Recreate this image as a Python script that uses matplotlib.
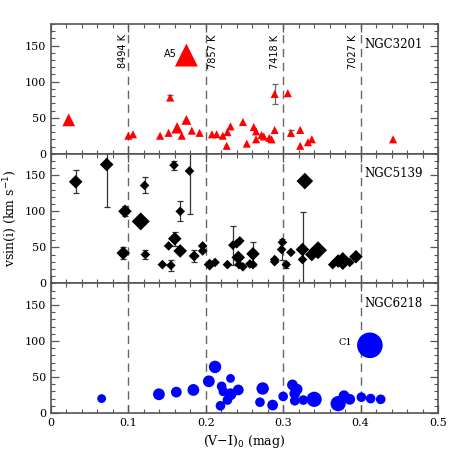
import numpy as np
import matplotlib
matplotlib.use('Agg')
import matplotlib.pyplot as plt
from matplotlib.ticker import MultipleLocator, FuncFormatter

# NGC3201 (red triangles)
x3201 = [0.023, 0.175, 0.154, 0.100, 0.106, 0.141, 0.152, 0.163, 0.169, 0.175,
         0.182, 0.192, 0.208, 0.214, 0.222, 0.228, 0.232, 0.227, 0.248, 0.253,
         0.262, 0.265, 0.265, 0.272, 0.275, 0.282, 0.285, 0.289, 0.289, 0.306,
         0.310, 0.322, 0.322, 0.332, 0.337, 0.442]
y3201 = [47, 137, 78, 25, 27, 25, 29, 36, 25, 47,
         32, 29, 27, 27, 25, 30, 38, 11, 44, 14,
         37, 31, 20, 26, 24, 22, 20, 33, 83, 84,
         29, 33, 11, 16, 20, 20]
e3201 = [0, 0, 4, 0, 0, 0, 0, 0, 0, 0,
         0, 0, 0, 0, 0, 0, 0, 0, 0, 0,
         0, 0, 0, 0, 0, 0, 0, 0, 14, 0,
         4, 0, 0, 0, 0, 0]
k3201 = [2.5, 8, 1, 1, 1, 1, 1, 2, 1, 1.5,
         1, 1, 1, 1, 1, 1, 1, 1, 1, 1,
         1, 1, 1, 1, 1, 1, 1, 1, 1, 1,
         1, 1, 1, 1, 1, 1]

# NGC5139 (black diamonds)
x5139 = [0.032, 0.072, 0.0956, 0.0934, 0.116, 0.121, 0.122, 0.144, 0.152, 0.155,
         0.159, 0.160, 0.167, 0.167, 0.179, 0.185, 0.196, 0.196, 0.205, 0.212,
         0.228, 0.235, 0.240, 0.244, 0.242, 0.243, 0.248, 0.257, 0.261, 0.261,
         0.289, 0.289, 0.299, 0.298, 0.304, 0.310, 0.328, 0.325, 0.325, 0.337,
         0.345, 0.364, 0.371, 0.377, 0.386, 0.394]
y5139 = [141, 165, 100, 42, 86, 136, 40, 26, 52, 25,
         164, 62, 100, 45, 156, 38, 52, 45, 26, 29,
         26, 53, 55, 59, 36, 26, 23, 27, 41, 26,
         33, 30, 57, 47, 26, 43, 142, 47, 33, 40,
         46, 26, 31, 31, 29, 37]
e5139 = [16, 59, 7, 8, 0, 11, 6, 0, 0, 8,
         6, 10, 14, 0, 60, 9, 0, 0, 0, 0,
         0, 27, 0, 0, 0, 0, 0, 0, 17, 0,
         0, 0, 0, 14, 4, 0, 0, 52, 0, 0,
         0, 0, 0, 0, 0, 0]
k5139 = [2, 2, 2, 2, 3.5, 1, 1, 1, 1, 1,
         1, 2, 1, 2, 1, 1.3, 1, 1, 1.5, 1,
         1, 1, 1, 1, 2, 1, 1, 1, 2, 1,
         1, 1, 1, 1, 1, 1, 3, 2, 1, 2,
         3.5, 1, 2, 3.5, 1, 2]

# NGC6218 (blue circles)
x6218 = [0.0655, 0.1395, 0.162, 0.184, 0.204, 0.212, 0.2205, 0.2227, 0.232, 0.232,
         0.228, 0.219, 0.242, 0.2735, 0.270, 0.2864, 0.300, 0.312, 0.318, 0.315,
         0.315, 0.326, 0.340, 0.371, 0.3786, 0.386, 0.401, 0.413, 0.426, 0.412]
y6218 = [20, 26, 29, 32, 44, 64, 37, 30, 48, 26,
         18, 10, 32, 34, 15, 11, 23, 39, 33, 27,
         17, 18, 19, 13, 24, 19, 22, 20, 19, 94]
k6218 = [1, 1.8, 1.5, 1.8, 1.8, 2, 1.2, 1.2, 1, 1.8,
         1.2, 1.2, 1.5, 2, 1.2, 1.5, 1.2, 1.5, 1.5, 1.5,
         1.2, 1.2, 3, 3, 1.5, 1.5, 1.2, 1.2, 1.2, 8.5]

vlines = [0.1, 0.2, 0.3, 0.4]
temps = ['8494 K', '7857 K', '7418 K', '7027 K']
temp_x = [0.093, 0.209, 0.289, 0.390]

plt.rcParams['font.family'] = 'DejaVu Serif'

fig, axes = plt.subplots(3, 1, sharex=True, figsize=(4.63, 4.63), dpi=100)
fig.subplots_adjust(left=0.110, right=0.946, bottom=0.108, top=0.948, hspace=0)

panels = [
    (x3201, y3201, e3201, k3201, '^', 'red', 34, 'NGC3201', '#666666'),
    (x5139, y5139, e5139, k5139, 'D', 'black', 24, 'NGC5139', '#333333'),
    (x6218, y6218, None, k6218, 'o', 'blue', 40, 'NGC6218', '#333333'),
]

for ax, (x, y, e, k, m, c, base, name, ec) in zip(axes, panels):
    for v in vlines:
        ax.axvline(v, color='#666666', ls=(0, (6, 4)), lw=1.0, zorder=1)
    if e is not None:
        for xi, yi, ei in zip(x, y, e):
            if ei > 0:
                ax.errorbar(xi, yi, yerr=ei, fmt='none', ecolor=ec, elinewidth=0.9,
                            capsize=2.5, capthick=0.9, zorder=2)
    ax.scatter(x, y, s=[base * v for v in k], marker=m, c=c, edgecolors='none', zorder=3)
    ax.set_ylim(0, 180)
    ax.set_xlim(0, 0.5)
    ax.yaxis.set_major_locator(MultipleLocator(50))
    ax.yaxis.set_minor_locator(MultipleLocator(10))
    ax.xaxis.set_major_locator(MultipleLocator(0.1))
    ax.xaxis.set_minor_locator(MultipleLocator(0.02))
    ax.tick_params(which='both', direction='in', top=True, right=True,
                   color='#555555', labelsize=8)
    ax.tick_params(which='major', length=6, width=0.9)
    ax.tick_params(which='minor', length=3, width=0.8)
    for sp in ax.spines.values():
        sp.set_color('#555555')
        sp.set_linewidth(1.2)
    ax.text(0.405, 152, name, fontsize=8.5, va='center', ha='left')

# temperature labels
for tx, t in zip(temp_x, temps):
    axes[0].text(tx, 142, t, rotation=90, ha='center', va='center',
                 fontsize=7, family='DejaVu Sans')
axes[0].text(0.162, 138, 'A5', fontsize=7, ha='right', va='center', family='DejaVu Sans')
axes[2].text(0.389, 98, 'C1', fontsize=7, ha='right', va='center')

axes[2].xaxis.set_major_formatter(FuncFormatter(lambda v, p: '0' if abs(v) < 1e-9 else '%.1f' % v))
axes[0].tick_params(labelbottom=False)
axes[1].tick_params(labelbottom=False)
axes[1].set_ylabel('vsin(i) (km s$^{-1}$)', fontsize=9)
axes[2].set_xlabel('(V$-$I)$_0$ (mag)', fontsize=9)

fig.savefig('out.png', dpi=100)
